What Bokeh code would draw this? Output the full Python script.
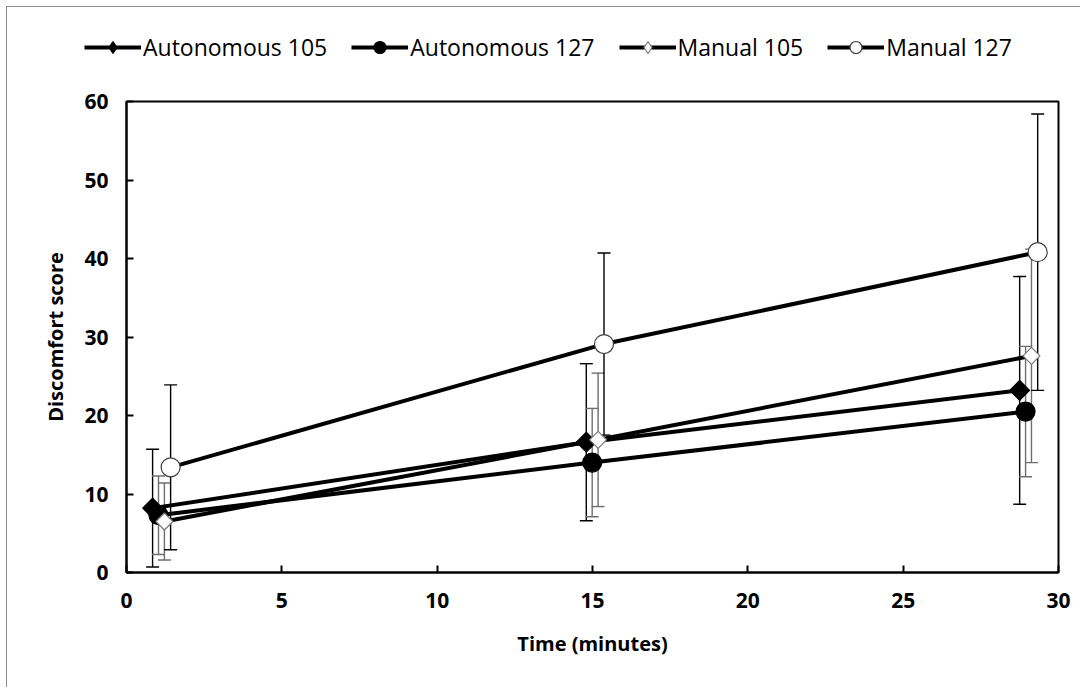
import numpy as np
from bokeh.plotting import figure
from bokeh.models import (Range1d, ColumnDataSource, Whisker, TeeHead, Legend,
                          LegendItem, FixedTicker)
from bokeh.embed import file_html
from bokeh.resources import INLINE

# ---- data ----
series_names = ["Autonomous 105", "Autonomous 127", "Manual 105", "Manual 127"]

a105_x = [0.84, 14.80, 28.75]
a105_y = [8.2, 16.6, 23.2]
a105_err = [7.5, 10.0, 14.5]

a127_x = [1.03, 14.99, 28.94]
a127_y = [7.3, 14.0, 20.5]
a127_err = [5.0, 6.9, 8.3]

m105_x = [1.22, 15.18, 29.13]
m105_y = [6.5, 16.9, 27.6]
m105_err = [4.9, 8.5, 13.6]

m127_x = [1.42, 15.37, 29.33]
m127_y = [13.4, 29.1, 40.8]
m127_err = [10.5, 11.6, 17.6]

x_ticks = [0, 5, 10, 15, 20, 25, 30]
y_ticks = [0, 10, 20, 30, 40, 50, 60]

FONT = "Open Sans"
BORDER = "1px solid #8c8c8c"

p = figure(width=1074, height=606, output_backend="svg", toolbar_location=None,
           x_range=Range1d(0, 30), y_range=Range1d(0, 60),
           min_border_left=119, min_border_right=23, min_border_top=20,
           min_border_bottom=115)
p.margin = (0, 0, 0, 6)
p.styles = {"border-left": BORDER}

p.xgrid.visible = False
p.ygrid.visible = False
p.outline_line_color = "black"
p.outline_line_width = 2
p.background_fill_color = "white"
p.border_fill_color = "white"

for ax in (p.xaxis[0], p.yaxis[0]):
    ax.axis_line_width = 2
    ax.axis_line_color = "black"
    ax.major_tick_in = 7
    ax.major_tick_out = 0
    ax.major_tick_line_width = 2
    ax.minor_tick_in = 0
    ax.minor_tick_out = 0
    ax.major_label_text_font = FONT
    ax.major_label_text_font_style = "bold"
    ax.major_label_text_font_size = "21px"
    ax.major_label_text_color = "black"
    ax.axis_label_text_font = FONT
    ax.axis_label_text_font_style = "bold"
    ax.axis_label_text_font_size = "20px"
    ax.axis_label_text_color = "black"

p.xaxis.ticker = FixedTicker(ticks=x_ticks)
p.yaxis.ticker = FixedTicker(ticks=y_ticks)
p.xaxis.axis_label = "Time (minutes)"
p.yaxis.axis_label = "Discomfort score"
p.xaxis.major_label_standoff = 20
p.yaxis.major_label_standoff = 18
p.xaxis.axis_label_standoff = 19
p.yaxis.axis_label_standoff = 12

specs = [
    (a105_x, a105_y, a105_err, "black", "square", np.pi / 4, 14, "black", "black", "diamond"),
    (a127_x, a127_y, a127_err, "#6e6e6e", "circle", 0, 19, "black", "black", "circle"),
    (m105_x, m105_y, m105_err, "#6e6e6e", "square", np.pi / 4, 12, "white", "#7a7a7a", "diamond"),
    (m127_x, m127_y, m127_err, "black", "circle", 0, 19, "white", "#404040", "circle"),
]

# error bars
for xs, ys, errs, ecol, *_ in specs:
    src = ColumnDataSource(dict(x=xs, upper=[y + e for y, e in zip(ys, errs)],
                                lower=[y - e for y, e in zip(ys, errs)]))
    w = Whisker(base="x", upper="upper", lower="lower", source=src, dimension="height",
                line_color=ecol, line_width=1.4,
                upper_head=TeeHead(size=13, line_color=ecol, line_width=1.4),
                lower_head=TeeHead(size=13, line_color=ecol, line_width=1.4))
    p.add_layout(w)

for xs, ys, *_ in specs:
    p.line(xs, ys, line_color="black", line_width=4)
for (xs, ys, errs, ecol, mk, ang, sz, fill, lcol, lmk) in specs:
    p.scatter(xs, ys, marker=mk, angle=ang, size=sz, fill_color=fill,
              line_color=lcol, line_width=1.2)

# ---- legend strip (separate root above the chart) ----
lf = figure(width=1074, height=75, output_backend="svg", toolbar_location=None,
            x_range=Range1d(0, 1), y_range=Range1d(0, 1),
            x_axis_type=None, y_axis_type=None,
            min_border_left=0, min_border_right=0, min_border_top=0, min_border_bottom=0)
lf.margin = (6, 0, 0, 6)
lf.styles = {"border-left": BORDER, "border-top": BORDER}
lf.grid.visible = False
lf.outline_line_color = None
lf.border_fill_color = "white"
lf.background_fill_color = "white"

items = []
for (xs, ys, errs, ecol, mk, ang, sz, fill, lcol, lmk), name in zip(specs, series_names):
    # legend-only renderers, kept outside the visible range
    lr = lf.line(x=[-10, -9], y=[-10, -10], line_color="black", line_width=4)
    sr = lf.scatter(x=[-10], y=[-10], marker=lmk, size=sz, fill_color=fill,
                    line_color=lcol, line_width=1.2)
    items.append(LegendItem(label=name, renderers=[lr, sr]))

legend = Legend(items=items, orientation="horizontal", location=(77, 19),
                glyph_width=57, glyph_height=30, label_standoff=2, spacing=24,
                padding=0, margin=0, border_line_alpha=0, background_fill_alpha=0,
                label_text_font=FONT, label_text_font_size="23px",
                label_text_color="black")
lf.add_layout(legend, "center")

open("out.html", "w").write(file_html([lf, p], INLINE))
